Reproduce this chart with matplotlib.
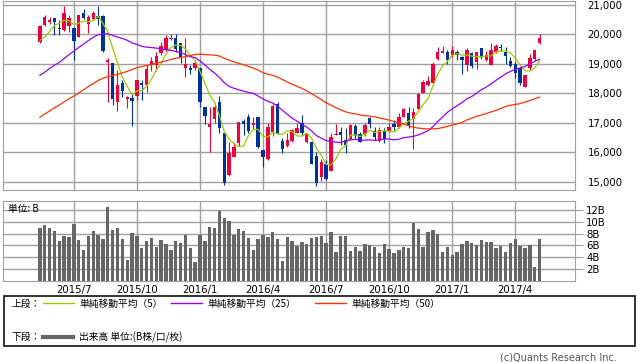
import matplotlib
matplotlib.use("Agg")
import matplotlib.pyplot as plt
import numpy as np
import pandas as pd
from matplotlib.patches import Rectangle

plt.rcParams['font.family'] = ['DejaVu Sans', 'Noto Sans CJK JP']
JP = ['Noto Sans CJK JP', 'DejaVu Sans']

# 日経平均 週足 (2015/5 - 2017/5)
opens = [19740, 20300, 20400, 20530, 20220, 20140, 20270, 20190, 19910, 20720,
         20340, 20500, 20620, 20610, 19060, 19010, 17710, 18330, 17790, 17840,
         17900, 18350, 18270, 18950, 18950, 19370, 19460, 19820, 19850, 19710,
         18840, 18860, 18840, 18840, 17520, 16840, 17140, 17710, 16640, 15230,
         15850, 16300, 17050, 17180, 16920, 17180, 16090, 15760, 16690, 17630,
         16390, 16220, 16390, 16660, 17000, 16350, 16350, 15870, 15170, 15590,
         15370, 16580, 16670, 16410, 16430, 16880, 16610, 16610, 17170, 16730,
         16390, 16730, 16730, 16950, 16860, 17200, 17340, 17110, 17450, 18010,
         18270, 18330, 19140, 19370, 19400, 19290, 19400, 19210, 18950, 19370,
         19060, 19515, 19120, 18950, 19400, 19550, 19400, 19090, 18980, 18840,
         18220, 18840, 19140, 19680]
highs = [20300, 20640, 20590, 20540, 20470, 20950, 20640, 20230, 20650, 20840,
         20640, 20790, 20950, 20640, 19180, 19010, 18780, 18440, 17900, 17990,
         18440, 18440, 18950, 19230, 19400, 19740, 19970, 20000, 20010, 19710,
         19850, 18950, 19120, 18840, 17520, 17520, 17650, 17900, 16650, 16350,
         16320, 17030, 17140, 17290, 17180, 17200, 16090, 17000, 17630, 17710,
         16470, 16640, 16780, 16990, 17260, 16630, 16350, 16015, 15755, 15733,
         16660, 16950, 16860, 16805, 16950, 16950, 16690, 16975, 17200, 16860,
         16860, 16805, 16975, 17090, 17310, 17480, 17520, 17480, 18010, 18440,
         18580, 19060, 19570, 19590, 19460, 19590, 19460, 19255, 19515, 19400,
         19400, 19515, 19440, 19710, 19660, 19660, 19570, 19230, 19060, 18840,
         18620, 19320, 19460, 20000]
lows = [19700, 20270, 20340, 19980, 19970, 20110, 20080, 19110, 19890, 20500,
        20050, 20475, 20300, 19400, 17710, 17600, 17400, 17880, 17480, 16900,
        17770, 17770, 18050, 18760, 18760, 19290, 19440, 19800, 19400, 19010,
        18560, 18650, 18780, 17520, 16950, 16020, 16980, 16660, 14890, 15190,
        15820, 16210, 16580, 16640, 16750, 16130, 15490, 15730, 16550, 16620,
        15980, 16190, 16350, 16640, 16550, 16320, 15590, 14870, 15030, 15055,
        15370, 16580, 16240, 15960, 16410, 16430, 16354, 16546, 16805, 16410,
        16354, 16297, 16692, 16749, 16805, 17178, 16805, 16111, 17449, 17990,
        18240, 18307, 19120, 19346, 18984, 19233, 19120, 18646, 18759, 18838,
        18804, 19142, 19097, 18950, 19368, 19436, 18984, 18871, 18499, 18273,
        18217, 18781, 19120, 19661]
closes = [20264, 20563, 20460, 20407, 20174, 20706, 20539, 19779, 20650, 20544,
          20585, 20724, 20519, 19435, 19136, 17792, 18264, 18070, 17880, 17725,
          18438, 18291, 18825, 19083, 19265, 19597, 19879, 19883, 19504, 19230,
          18986, 18769, 19033, 17697, 17240, 16958, 17518, 16819, 14952, 15967,
          16188, 17014, 16938, 16724, 17002, 16164, 15821, 16848, 17572, 16666,
          16106, 16412, 16736, 16834, 16642, 16601, 15599, 14952, 15682, 15106,
          16497, 16627, 16569, 16254, 16919, 16545, 16360, 16925, 16965, 16519,
          16754, 16449, 16860, 16856, 17184, 17446, 16905, 17374, 17967, 18381,
          18426, 18996, 19401, 19427, 19114, 19454, 19287, 19137, 19467, 18918,
          19378, 19234, 19283, 19469, 19604, 19521, 19262, 18909, 18664, 18335,
          18620, 19196, 19445, 19883]
# 移動平均用の前期間の終値 (2014/6 - 2015/5)
prior_closes = [15097, 15349, 15095, 15437, 15164, 15215, 15457, 15523, 14778, 15318,
                15539, 15425, 15668, 15948, 16321, 16229, 15708, 15300, 14532, 15291,
                16413, 16880, 17490, 17357, 17459, 17920, 17371, 17621, 17818, 17450,
                17197, 16864, 17511, 17674, 17648, 17913, 18332, 18798, 18971, 19254,
                19560, 19285, 19435, 19908, 19652, 20020, 19531, 19379, 19733]
# 出来高 (B株)
volume = [9.06, 9.57, 8.95, 8.43, 6.72, 7.69, 7.52, 9.74, 7.01, 5.30,
          7.69, 8.43, 7.86, 7.18, 12.65, 8.72, 9.06, 7.18, 3.59, 8.09,
          7.69, 5.64, 6.72, 7.35, 5.81, 7.01, 6.32, 5.19, 6.72, 6.50,
          7.86, 5.64, 3.08, 7.86, 6.84, 9.23, 9.06, 11.97, 10.77, 10.26,
          7.86, 8.89, 8.55, 7.35, 5.30, 7.18, 7.86, 7.52, 8.38, 7.18,
          3.42, 7.52, 6.78, 5.87, 6.67, 6.32, 7.35, 7.52, 7.69, 6.50,
          8.38, 4.96, 7.69, 7.69, 5.13, 5.81, 5.13, 6.32, 6.15, 5.81,
          4.62, 6.32, 5.47, 4.62, 5.30, 5.81, 5.64, 9.91, 8.89, 5.81,
          8.38, 8.72, 8.03, 4.96, 5.81, 4.44, 4.79, 6.32, 6.84, 6.50,
          6.15, 7.01, 6.67, 6.67, 5.64, 5.98, 4.96, 6.50, 7.18, 5.98,
          5.64, 6.15, 2.39, 7.18]
tick_weeks = [7, 20, 33, 46, 59, 72, 85, 98]
tick_labels = ['2015/7', '2015/10', '2016/1', '2016/4', '2016/7', '2016/10', '2017/1', '2017/4']
price_ticks = [15000, 16000, 17000, 18000, 19000, 20000, 21000]
vol_ticks = [2, 4, 6, 8, 10, 12]

UP, DOWN = '#f0003c', '#003399'
GRID = '#a0a0a0'
MA_COLORS = {5: '#99cc00', 25: '#9900ff', 50: '#ff3300'}

o = np.array(opens, float)
h = np.array(highs, float)
l = np.array(lows, float)
c = np.array(closes, float)
x = np.arange(len(c))
cols = np.where(c > o, UP, DOWN)

allc = pd.Series(prior_closes + closes, dtype=float)
n0 = len(prior_closes)

fig = plt.figure(figsize=(6.38, 3.62), dpi=100)
ax = fig.add_axes([3 / 638, 1 - 190 / 362, 572 / 638, 189 / 362])
axv = fig.add_axes([3 / 638, 1 - 280.5 / 362, 572 / 638, 79.5 / 362])

# ローソク足
ax.vlines(x, l, h, colors=cols, linewidth=0.8, zorder=2)
body_lo = np.minimum(o, c)
body_h = np.maximum(np.abs(c - o), 30)
ax.bar(x, body_h, bottom=body_lo, width=0.7, color=cols, linewidth=0, zorder=3)

for n in (5, 25, 50):
    ma = allc.rolling(n).mean().values[n0:]
    ax.plot(x, ma, color=MA_COLORS[n], linewidth=0.9, zorder=4)

xmin, xmax = -7.6, 110.3
ax.set_xlim(xmin, xmax)
ax.set_ylim(14719, 21119)
ax.set_xticks(tick_weeks)
ax.set_xticklabels([])
ax.set_yticks(price_ticks)
ax.set_yticklabels([f'{v:,}' for v in price_ticks])
ax.yaxis.tick_right()
ax.tick_params(axis='both', length=0, labelsize=7.3, pad=9)
ax.grid(True, color=GRID, linewidth=1)
ax.set_axisbelow(True)
for s in ax.spines.values():
    s.set_color(GRID)

# 出来高
axv.bar(x, volume, width=0.7, color='#666666', linewidth=0, zorder=3)
axv.set_xlim(xmin, xmax)
axv.set_ylim(0, 13.6)
axv.set_xticks(tick_weeks)
axv.set_xticklabels(tick_labels)
axv.set_yticks(vol_ticks)
axv.set_yticklabels([f'{v}B' for v in vol_ticks])
axv.yaxis.tick_right()
axv.tick_params(axis='y', length=6, color=GRID, labelsize=7.3, pad=2)
axv.tick_params(axis='x', length=0, labelsize=7.3, pad=3)
axv.grid(True, color=GRID, linewidth=1)
axv.set_axisbelow(True)
for s in axv.spines.values():
    s.set_color(GRID)
axv.text(0.008, 0.9, '単位: B', transform=axv.transAxes, fontsize=7, family=JP,
         va='center', ha='left')

# 凡例 (ピクセル座標)
lg = fig.add_axes([0, 0, 1, 1])
lg.set_xlim(0, 638)
lg.set_ylim(362, 0)
lg.axis('off')
lg.add_patch(Rectangle((3.5, 296), 631.5, 50, fill=False, edgecolor='#111111', linewidth=1.2))
lg.text(12, 303.5, '上段：', fontsize=7, family=JP, va='center')
lg.text(12, 337, '下段：', fontsize=7, family=JP, va='center')
legend_items = [(43, 5, '単純移動平均（5）'), (171, 25, '単純移動平均（25）'), (315, 50, '単純移動平均（50）')]
for x0, n, label in legend_items:
    lg.plot([x0, x0 + 31], [303, 303], color=MA_COLORS[n], linewidth=1)
    lg.text(x0 + 36, 303.5, label, fontsize=7, family=JP, va='center')
lg.plot([43, 73], [337, 337], color='#666666', linewidth=3)
lg.text(79, 337, '出来高 単位:(B株/口/枚)', fontsize=7, family=JP, va='center')
lg.text(617, 357, '(c)Quants Research Inc.', fontsize=7, color='#555555', ha='right', va='center')

fig.savefig('out.png', dpi=100)
